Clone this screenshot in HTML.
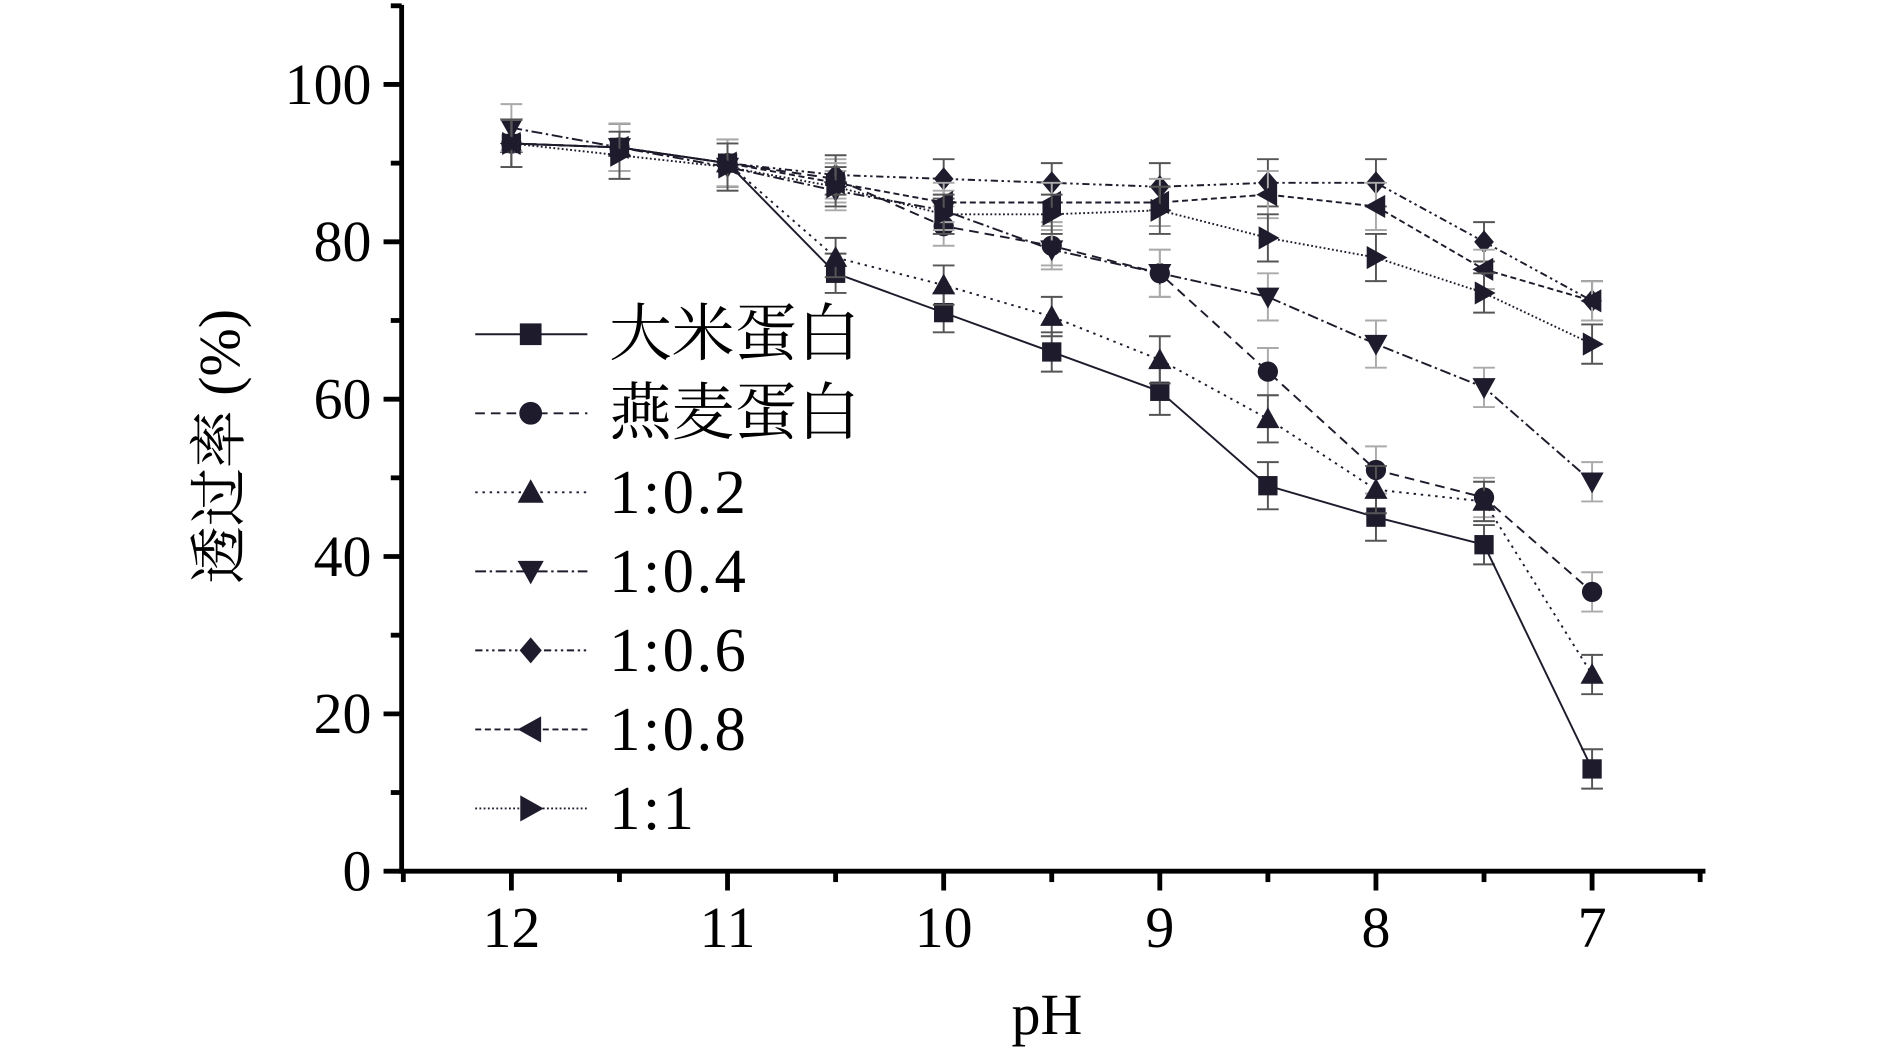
<!DOCTYPE html>
<html><head><meta charset="utf-8"><style>
html,body{margin:0;padding:0;background:#fff;}
svg{display:block;}
</style></head><body>
<svg id="chart" width="1890" height="1051" viewBox="0 0 1567 871" preserveAspectRatio="none" xmlns="http://www.w3.org/2000/svg" font-family="'Liberation Serif','Times New Roman','Noto Serif CJK SC',serif">
<g id="plot"></g>
</svg>
<script>
const phValues = [12, 11.5, 11, 10.5, 10, 9.5, 9, 8.5, 8, 7.5, 7];
const riceValues = [92.5, 92, 90, 76, 71, 66, 61, 49, 45, 41.5, 13];
const oatValues = [92.5, 92, 90, 88, 82, 79.5, 76, 63.5, 51, 47.5, 35.5];
const r02Values = [92.5, 92, 90, 78, 74.5, 70.5, 65, 57.5, 48.5, 47, 25];
const r04Values = [94.5, 92, 89.5, 86.5, 84, 79, 76, 73, 67, 61.5, 49.5];
const r06Values = [92.5, 92, 90, 88.5, 88, 87.5, 87, 87.5, 87.5, 80, 72.5];
const r08Values = [92.5, 92, 90, 87.5, 85, 85, 85, 86, 84.5, 76.5, 72.5];
const r1Values = [92.5, 91, 89.5, 87, 83.5, 83.5, 84, 80.5, 78, 73.5, 67];
const errValues = [3, 3, 3, 2.5, 2.5, 2.5, 3, 3, 3, 2.5, 2.5];
const yTicks = [0, 20, 40, 60, 80, 100];
const xTicks = [12, 11, 10, 9, 8, 7];
const seriesNames = ["大米蛋白", "燕麦蛋白", "1:0.2", "1:0.4", "1:0.6", "1:0.8", "1:1"];

const NS = "http://www.w3.org/2000/svg";
const g = document.getElementById('plot');
const xS = v => 424 + (12 - v) * 179.2;
const yS = v => 722 - v * 6.52;
const C = "#1e1c2c";
function mk(tag, attrs, parent) {
  const e = document.createElementNS(NS, tag);
  for (const k in attrs) e.setAttribute(k, attrs[k]);
  (parent || g).appendChild(e);
  return e;
}
function marker(type, cx, cy, s, parent) {
  let e;
  if (type === 'square') e = mk('rect', {x: cx - s, y: cy - s, width: 2 * s, height: 2 * s, fill: C}, parent);
  else if (type === 'circle') e = mk('circle', {cx: cx, cy: cy, r: s * 1.05, fill: C}, parent);
  else {
    let p;
    const t = s * 1.2;
    if (type === 'up') p = [[cx, cy - t], [cx + t, cy + t * 0.8], [cx - t, cy + t * 0.8]];
    if (type === 'down') p = [[cx, cy + t], [cx + t, cy - t * 0.8], [cx - t, cy - t * 0.8]];
    if (type === 'diamond') p = [[cx, cy - t], [cx + t * 0.85, cy], [cx, cy + t], [cx - t * 0.85, cy]];
    if (type === 'left') p = [[cx - t, cy], [cx + t * 0.8, cy - t], [cx + t * 0.8, cy + t]];
    if (type === 'right') p = [[cx + t, cy], [cx - t * 0.8, cy - t], [cx - t * 0.8, cy + t]];
    e = mk('polygon', {points: p.map(q => q.join(',')).join(' '), fill: C}, parent);
  }
  return e;
}

const yAxis = mk('line', {x1: 333, y1: 4, x2: 333, y2: 724, stroke: '#000', 'stroke-width': 4});


const xAxis = mk('line', {x1: 331, y1: 722, x2: 1414, y2: 722, stroke: '#000', 'stroke-width': 4});


for (let v = 0; v <= 110; v += 10) {
  const major = v % 20 === 0;
  mk('line', {x1: major ? 318 : 324, y1: yS(v), x2: 333, y2: yS(v), stroke: '#000', 'stroke-width': 4});
}
yTicks.forEach(v => {
  const t = mk('text', {x: 308, y: yS(v) + 16, 'text-anchor': 'end', 'font-size': 48});
  t.textContent = v;
  
  
});
for (let v = 12.5; v >= 6.5; v -= 0.5) {
  const major = Number.isInteger(v);
  mk('line', {x1: xS(v), y1: 722, x2: xS(v), y2: major ? 738 : 731, stroke: '#000', 'stroke-width': 4});
}
xTicks.forEach(v => {
  const t = mk('text', {x: xS(v), y: 785, 'text-anchor': 'middle', 'font-size': 48});
  t.textContent = v;
  
  
});
const xt = mk('text', {x: 868, y: 857, 'text-anchor': 'middle', 'font-size': 48});
xt.textContent = 'pH';


const yt = mk('text', {x: 0, y: 0, 'text-anchor': 'middle', 'font-size': 48, transform: 'translate(198,370) rotate(-90)'});
yt.textContent = '透过率 (%)';



const series = [
  {vals: riceValues, m: 'square', dash: 'none'},
  {vals: oatValues, m: 'circle', dash: '8,5'},
  {vals: r02Values, m: 'up', dash: '2,4'},
  {vals: r04Values, m: 'down', dash: '9,3,2,3'},
  {vals: r06Values, m: 'diamond', dash: '6,3,2,3,2,3'},
  {vals: r08Values, m: 'left', dash: '5,3'},
  {vals: r1Values, m: 'right', dash: '1.5,2'}
];
series.forEach((s, i) => {
  const sg = mk('g', {});
  
  
  s.vals.forEach((v, j) => {
    const x = xS(phValues[j]), e = errValues[j];
    const eb = mk('path', {d: `M${x},${yS(v + e)}V${yS(v - e)}M${x - 9},${yS(v + e)}h18M${x - 9},${yS(v - e)}h18`, stroke: i % 2 ? '#aaa' : '#555', 'stroke-width': 1.6, fill: 'none'}, sg);
    
    
  });
  const pl = mk('polyline', {points: s.vals.map((v, j) => xS(phValues[j]) + ',' + yS(v)).join(' '), fill: 'none', stroke: C, 'stroke-width': 1.6, 'stroke-dasharray': s.dash}, sg);
  
  
  s.vals.forEach((v, j) => {
    const mm = marker(s.m, xS(phValues[j]), yS(v), 8, sg);
    
    
  });
  const ly = 277 + i * 65.5;
  const lg = mk('g', {});
  
  
  mk('line', {x1: 394, y1: ly, x2: 487, y2: ly, stroke: C, 'stroke-width': 1.6, 'stroke-dasharray': s.dash}, lg);
  marker(s.m, 440, ly, 9, lg);
  const lt = mk('text', {x: 505, y: ly + 17, 'font-size': 52, 'letter-spacing': i > 1 ? 2 : 0}, lg);
  lt.textContent = seriesNames[i];
});
</script>
</body></html>
